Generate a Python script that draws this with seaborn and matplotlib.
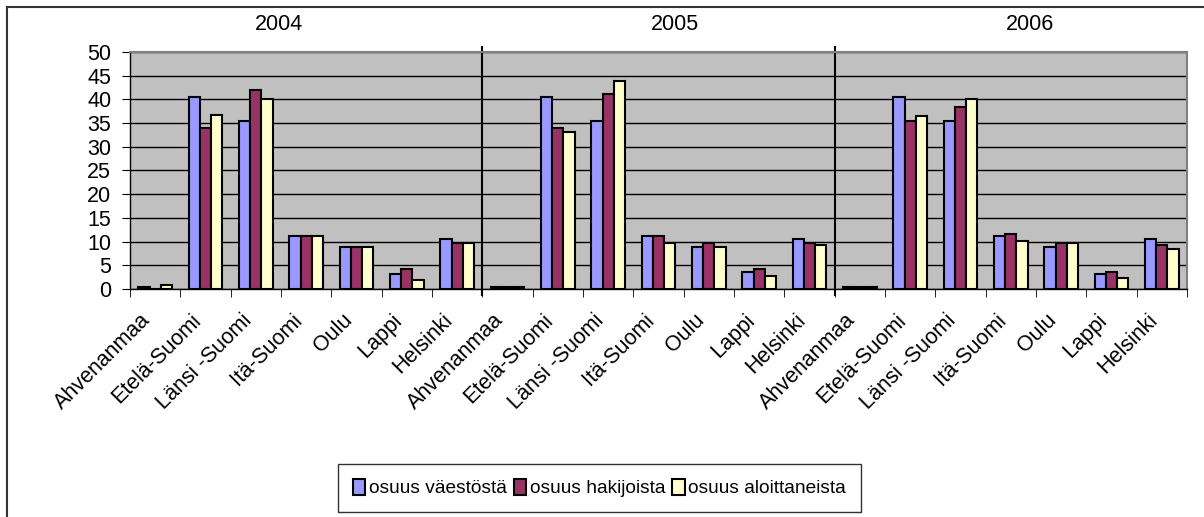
import matplotlib
matplotlib.use("Agg")
import matplotlib.pyplot as plt
from matplotlib.lines import Line2D
import seaborn as sns
import pandas as pd

plt.rcParams['font.family'] = ['Liberation Sans', 'DejaVu Sans']

years = ["2004", "2005", "2006"]
regions = ["Ahvenanmaa", "Etelä-Suomi", "Länsi -Suomi", "Itä-Suomi", "Oulu", "Lappi", "Helsinki"]
series = ["osuus väestöstä", "osuus hakijoista", "osuus aloittaneista"]
colors = ["#9999FF", "#993366", "#FFFFCC"]

vaesto_2004 = [0.5, 40.6, 35.5, 11.1, 8.8, 3.2, 10.6]
hakija_2004 = [0.0, 34.0, 42.0, 11.1, 8.8, 4.2, 9.6]
aloitt_2004 = [0.9, 36.8, 40.1, 11.1, 8.8, 1.8, 9.6]

vaesto_2005 = [0.4, 40.6, 35.5, 11.1, 8.8, 3.6, 10.6]
hakija_2005 = [0.4, 34.0, 41.1, 11.1, 9.6, 4.2, 9.6]
aloitt_2005 = [0.4, 33.1, 43.9, 9.6, 8.8, 2.7, 9.2]

vaesto_2006 = [0.4, 40.6, 35.5, 11.1, 8.8, 3.2, 10.6]
hakija_2006 = [0.4, 35.5, 38.3, 11.6, 9.6, 3.6, 9.2]
aloitt_2006 = [0.4, 36.4, 40.1, 10.2, 9.6, 2.3, 8.4]

data_by_year = {
    "2004": [vaesto_2004, hakija_2004, aloitt_2004],
    "2005": [vaesto_2005, hakija_2005, aloitt_2005],
    "2006": [vaesto_2006, hakija_2006, aloitt_2006],
}

rows = []
keys = []
for y in years:
    for r in regions:
        keys.append(f"{y}|{r}")
for y in years:
    for s, vals in zip(series, data_by_year[y]):
        for r, v in zip(regions, vals):
            rows.append({"key": f"{y}|{r}", "series": s, "value": v})
df = pd.DataFrame(rows)

fig = plt.figure(figsize=(12.04, 5.17), dpi=100)
ax = fig.add_axes([130/1204, 1-289/517, (1187-130)/1204, (289-52)/517])
ax.set_facecolor("#C0C0C0")

sns.barplot(data=df, x="key", y="value", hue="series", order=keys, hue_order=series,
            palette=colors, width=0.67, edgecolor="black", linewidth=1.5,
            errorbar=None, ax=ax, saturation=1)

handles, labels = ax.get_legend_handles_labels()
if ax.get_legend() is not None:
    ax.get_legend().remove()

n = len(keys)
ax.set_xlim(-0.5, n - 0.5)
ax.set_ylim(0, 50)
ax.set_yticks(range(0, 51, 5))
ax.yaxis.grid(True, color="black", linewidth=1)
ax.set_axisbelow(True)
ax.set_xlabel("")
ax.set_ylabel("")

ax.set_xticks(range(n))
ax.set_xticklabels([k.split("|")[1] for k in keys], rotation=45, ha="right", va="top",
                   fontsize=15.5)
ax.tick_params(axis="x", which="major", length=0, pad=15)
ax.set_xticks([i - 0.5 for i in range(n + 1)], minor=True)
ax.tick_params(axis="x", which="minor", length=6, direction="out", color="black")
ax.tick_params(axis="y", length=6, direction="out", labelsize=15.5, pad=7.5, color="black")

for sp in ["top", "right"]:
    ax.spines[sp].set_color("#808080")
    ax.spines[sp].set_linewidth(1.5)
for sp in ["left", "bottom"]:
    ax.spines[sp].set_color("black")
    ax.spines[sp].set_linewidth(1)

for b in [len(regions) - 0.5, 2 * len(regions) - 0.5]:
    ax.axvline(b, ymin=-0.025, ymax=1.021, color="black", linewidth=1.5, clip_on=False)

year_x = [279, 675, 1030]
for y, xp in zip(years, year_x):
    fig.text(xp/1204, 1 - 25/517, y, ha="center", va="center", fontsize=15.5)

leg = fig.legend(handles, labels, loc="center", bbox_to_anchor=(599.5/1204, 1 - 488/517),
                 ncol=3, frameon=True, fancybox=False, edgecolor="black", fontsize=13.8,
                 handlelength=0.65, handleheight=0.95, handletextpad=0.2, columnspacing=0.35,
                 borderpad=0.75)
leg.get_frame().set_linewidth(1)

fig.add_artist(Line2D([7/1204, 7/1204], [0, 1 - 7/517], color="#333333", linewidth=1.5))
fig.add_artist(Line2D([7/1204, 1], [1 - 7/517, 1 - 7/517], color="#333333", linewidth=1.5))

fig.savefig("out.png", dpi=100)
